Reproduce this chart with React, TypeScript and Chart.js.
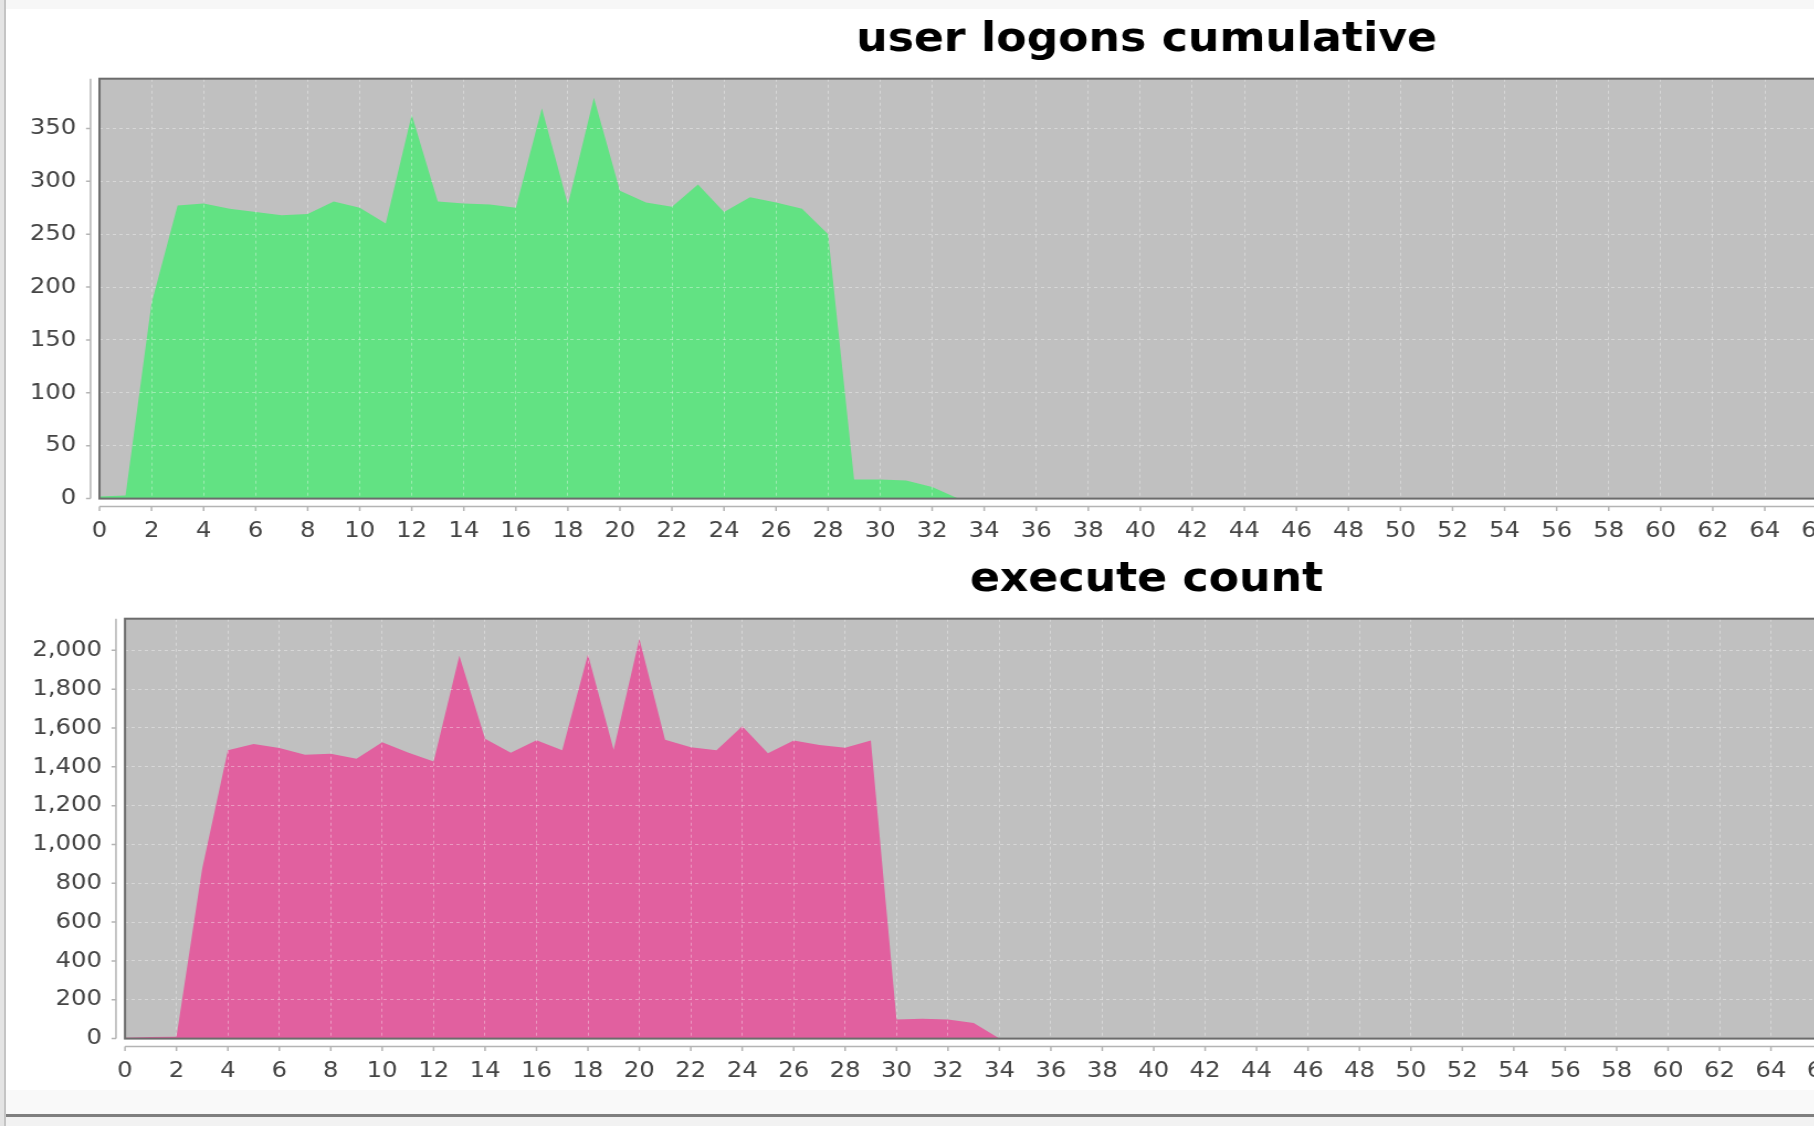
import React, { useEffect, useRef } from "react";
import { Chart, registerables } from "chart.js";

Chart.register(...registerables);

// ---- data ----
const xValues = [
  0, 1, 2, 3, 4, 5, 6, 7, 8, 9, 10, 11, 12, 13, 14, 15, 16, 17, 18, 19, 20,
  21, 22, 23, 24, 25, 26, 27, 28, 29, 30, 31, 32, 33, 34, 35, 36, 37, 38, 39, 40,
];
const logonValues = [
  2, 3, 185, 277, 279, 274, 271, 268, 269, 281, 275, 260, 363, 281, 279, 278,
  275, 369, 278, 379, 291, 280, 276, 297, 271, 285, 280, 274, 250, 18, 18, 17,
  11, 0, 0, 0, 0, 0, 0, 0, 0,
];
const executeValues = [
  5, 8, 10, 875, 1485, 1518, 1497, 1462, 1467, 1442, 1527, 1474, 1427, 1972,
  1545, 1472, 1537, 1485, 1978, 1488, 2060, 1540, 1501, 1485, 1609, 1470, 1535,
  1512, 1498, 1535, 99, 102, 99, 80, 0, 0, 0, 0, 0, 0, 0,
];
const logonTicks = [0, 50, 100, 150, 200, 250, 300, 350];
const executeTicks = [0, 200, 400, 600, 800, 1000, 1200, 1400, 1600, 1800, 2000];
const xTickStep = 2;
const xTickLast = 72;
const xMax = 84.3;
const logonYMax = 397;
const executeYMax = 2163;

// ---- style ----
const STRETCH = 1.105;
const CANVAS_W = 2075;
const CANVAS_H = 540;
const PLOT_BG = "#c0c0c0";
const OUTLINE = "#6c6c6c";
const AXIS_COLOR = "#b4b4b4";
const GRID_COLOR = "rgba(255,255,255,0.36)";
const FONT = "'DejaVu Sans', 'Liberation Sans', sans-serif";

const jfreePlugin = {
  id: "jfreePlot",
  beforeDraw(chart: any) {
    const { ctx, chartArea: a } = chart;
    ctx.save();
    ctx.fillStyle = PLOT_BG;
    ctx.fillRect(a.left, a.top, a.right - a.left, a.bottom - a.top);
    ctx.restore();
  },
  afterDraw(chart: any) {
    const { ctx, chartArea: a, scales } = chart;
    ctx.save();
    ctx.strokeStyle = AXIS_COLOR;
    ctx.lineWidth = 1.5;
    ctx.beginPath();
    const ax = a.left - 9 / STRETCH;
    ctx.moveTo(ax, a.top);
    ctx.lineTo(ax, a.bottom);
    scales.y.ticks.forEach((t: any) => {
      const py = scales.y.getPixelForValue(t.value);
      ctx.moveTo(ax, py);
      ctx.lineTo(ax - 4.5 / STRETCH, py);
    });
    const ay = a.bottom + 8;
    ctx.moveTo(a.left, ay);
    ctx.lineTo(a.right, ay);
    scales.x.ticks.forEach((t: any) => {
      const px = scales.x.getPixelForValue(t.value);
      ctx.moveTo(px, ay);
      ctx.lineTo(px, ay + 4.5);
    });
    ctx.stroke();
    ctx.strokeStyle = OUTLINE;
    ctx.lineWidth = 2;
    ctx.strokeRect(a.left, a.top, a.right - a.left, a.bottom - a.top);
    ctx.restore();
  },
};

type PanelProps = {
  title: string;
  values: number[];
  color: string;
  yTicks: number[];
  yMax: number;
  plotLeft: number;
  top: number;
};

function AreaPanel({ title, values, color, yTicks, yMax, plotLeft, top }: PanelProps) {
  const ref = useRef<HTMLCanvasElement>(null);
  useEffect(() => {
    const canvas = ref.current;
    if (!canvas) return;
    const tickFont = { family: FONT, size: 22 };
    const chart = new Chart(canvas, {
      type: "line",
      data: {
        datasets: [
          {
            data: xValues.map((x, i) => ({ x, y: values[i] })),
            fill: "origin",
            backgroundColor: color,
            borderColor: "rgba(0,0,0,0)",
            borderWidth: 1,
            pointRadius: 0,
            tension: 0,
          },
        ],
      },
      options: {
        animation: false,
        responsive: false,
        devicePixelRatio: 1,
        layout: { padding: 0 },
        events: [],
        plugins: {
          legend: { display: false },
          tooltip: { enabled: false },
          title: {
            display: true,
            text: title,
            color: "#000000",
            font: { family: FONT, size: 40, weight: "bold", lineHeight: 1.2 },
            padding: { top: 16.6, bottom: 14.1 },
          },
        },
        scales: {
          x: {
            type: "linear",
            min: 0,
            max: xMax,
            afterBuildTicks: (s: any) => {
              s.ticks = s.ticks.filter((t: any) => t.value <= xTickLast);
            },
            ticks: {
              stepSize: xTickStep,
              includeBounds: false,
              autoSkip: false,
              maxRotation: 0,
              minRotation: 0,
              padding: 19.7,
              color: "#444444",
              font: tickFont,
              callback: (v: any) => String(v),
            },
            grid: { color: GRID_COLOR, lineWidth: 1, drawTicks: false, z: 1 },
            border: { display: false, dash: [3, 3] },
            afterFit: (s: any) => {
              s.height = CANVAS_H - 498.6;
            },
          },
          y: {
            type: "linear",
            min: 0,
            max: yMax,
            afterBuildTicks: (s: any) => {
              s.ticks = yTicks.map((v) => ({ value: v }));
            },
            ticks: {
              padding: 21,
              color: "#444444",
              font: tickFont,
              callback: (v: any) => Number(v).toLocaleString("en-US"),
            },
            grid: { color: GRID_COLOR, lineWidth: 1, drawTicks: false, z: 1 },
            border: { display: false, dash: [3, 3] },
            afterFit: (s: any) => {
              s.width = plotLeft / STRETCH;
            },
          },
        },
      } as any,
      plugins: [jfreePlugin],
    });
    return () => chart.destroy();
  }, []);
  return (
    <canvas
      ref={ref}
      width={CANVAS_W}
      height={CANVAS_H}
      style={{
        position: "absolute",
        left: 0,
        top,
        width: `${CANVAS_W * STRETCH}px`,
        height: `${CANVAS_H}px`,
      }}
    />
  );
}

export default function App() {
  return (
    <div
      style={{
        position: "fixed",
        left: 0,
        top: 0,
        width: 1814,
        height: 1126,
        overflow: "hidden",
        background: "#ffffff",
      }}
    >
      <AreaPanel
        title="user logons cumulative"
        values={logonValues}
        color="#62e283"
        yTicks={logonTicks}
        yMax={logonYMax}
        plotLeft={99.5}
        top={0}
      />
      <AreaPanel
        title="execute count"
        values={executeValues}
        color="#e1609f"
        yTicks={executeTicks}
        yMax={executeYMax}
        plotLeft={125}
        top={540}
      />
      <div style={{ position: "absolute", left: 0, top: 0, width: 1814, height: 9, background: "#f7f7f7" }} />
      <div style={{ position: "absolute", left: 0, top: 1090, width: 1814, height: 24, background: "#f9f9f9" }} />
      <div style={{ position: "absolute", left: 0, top: 1114, width: 1814, height: 3, background: "#7f7f7f" }} />
      <div style={{ position: "absolute", left: 0, top: 1117, width: 1814, height: 9, background: "#f2f2f2" }} />
      <div style={{ position: "absolute", left: 0, top: 0, width: 4, height: 1126, background: "#e4e4e4" }} />
      <div style={{ position: "absolute", left: 4, top: 0, width: 1.5, height: 1126, background: "#c4c4c4" }} />
    </div>
  );
}
